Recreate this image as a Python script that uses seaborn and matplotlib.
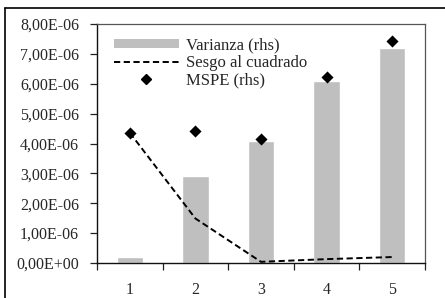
import numpy as np
import pandas as pd
import seaborn as sns
import matplotlib.pyplot as plt
from matplotlib.lines import Line2D
from matplotlib.patches import Patch
from matplotlib.ticker import FuncFormatter

# data
horizons = ['1', '2', '3', '4', '5']
varianza = [0.21e-6, 2.92e-6, 4.08e-6, 6.09e-6, 7.20e-6]
sesgo2 = [4.36e-6, 1.49e-6, 0.04e-6, 0.13e-6, 0.20e-6]
mspe = [4.36e-6, 4.42e-6, 4.14e-6, 6.23e-6, 7.42e-6]

sns.set_style('white')
plt.rcParams['font.family'] = ['Liberation Serif', 'DejaVu Serif']

df = pd.DataFrame({'h': horizons, 'var': varianza})

fig = plt.figure(figsize=(4.45, 2.98), dpi=100)
ax = fig.add_axes([0.218, 0.1174, 0.737, 0.8021])

sns.barplot(data=df, x='h', y='var', color='#bfbfbf', width=0.4,
            saturation=1, ax=ax)
pos = np.arange(len(horizons))
sns.lineplot(x=pos, y=sesgo2, color='black', linestyle=(0, (3.2, 1.8)),
             linewidth=1.4, ax=ax)
sns.scatterplot(x=pos, y=mspe, marker='D', color='black', s=38,
                edgecolor='black', linewidth=0, ax=ax, zorder=5)

ax.set_xlim(-0.5, 4.5)
ax.set_ylim(0, 8e-6)
ax.set_yticks(np.arange(0, 8.01e-6, 1e-6))
ax.yaxis.set_major_formatter(FuncFormatter(
    lambda v, p: ('%.2E' % v).replace('.', ',')))
ax.set_xticks(pos)
ax.set_xticks(np.arange(-0.5, 5, 1), minor=True)
ax.tick_params(axis='x', which='major', length=0, pad=14, labelsize=11.5)
ax.tick_params(axis='x', which='minor', length=5, width=0.9, color='#222222',
               direction='out', bottom=True)
ax.tick_params(axis='y', length=5, width=0.9, color='#222222',
               direction='out', left=True, pad=8, labelsize=11.5)
ax.set_xlabel('')
ax.set_ylabel('')
for side in ['left', 'bottom']:
    ax.spines[side].set_color('#111111')
    ax.spines[side].set_linewidth(1.0)
for side in ['top', 'right']:
    ax.spines[side].set_color('#555555')
    ax.spines[side].set_linewidth(0.9)

handles = [Patch(facecolor='#bfbfbf', edgecolor='none'),
           Line2D([], [], color='black', linestyle=(0, (3.2, 1.8)), linewidth=1.4),
           Line2D([], [], color='black', marker='D', linestyle='none', markersize=5.5)]
labels = ['Varianza (rhs)', 'Sesgo al cuadrado', 'MSPE (rhs)']
ax.legend(handles, labels, loc='upper left', bbox_to_anchor=(0.02, 0.985),
          frameon=False, fontsize=12, handlelength=3.9, handleheight=0.4,
          handletextpad=0.45, labelspacing=0.08, borderaxespad=0.2)

# outer frame of the original chart (only left and top edges are in the crop)
fig.add_artist(Line2D([4.5 / 445, 4.5 / 445], [0, 1 - 7.5 / 298],
                      transform=fig.transFigure, color='black', linewidth=1.2))
fig.add_artist(Line2D([4.5 / 445, 1], [1 - 7.5 / 298, 1 - 7.5 / 298],
                      transform=fig.transFigure, color='black', linewidth=1.2))

fig.savefig('out.png', dpi=100)
